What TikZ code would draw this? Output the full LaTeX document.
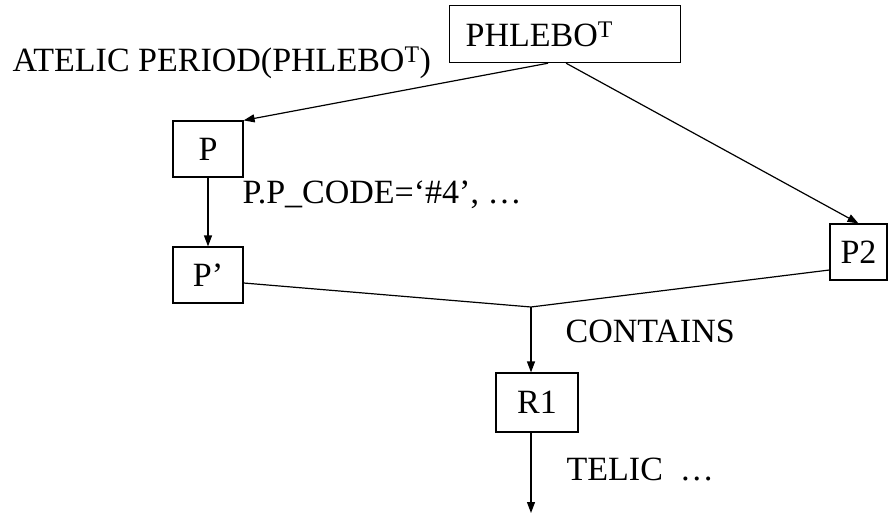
\documentclass[tikz,border=0pt]{standalone}
\usepackage{fontspec}
\setmainfont{Liberation Serif}
\usetikzlibrary{arrows.meta}

\begin{document}
\begin{tikzpicture}[x=1pt,y=-1pt,line width=1.2pt,>={Triangle[length=11pt,width=8pt]},
    font=\fontsize{34}{40}\selectfont,
    box/.style={draw,inner sep=0pt,minimum height=56pt},
    note/.style={anchor=base west,inner sep=0pt}]
\useasboundingbox (0,0) rectangle (888,516);
\node[box,minimum height=57pt,inner xsep=16pt,text width=199pt,align=left,anchor=north west] (ph) at (449,5) {PHLEBO\textsuperscript{T}};
\node[box,minimum width=70pt] (p) at (208,149) {P};
\node[box,minimum width=70pt] (pp) at (208,275) {P'};
\node[box,minimum width=57pt] (p2) at (858.5,252) {P2};
\node[box,minimum width=82pt,minimum height=59pt] (r1) at (537,402.5) {R1};
\coordinate (j) at (531,307);
\coordinate (end) at (531,513);
% labels
\node[note] (atelic) at (12,72) {ATELIC PERIOD(PHLEBO\textsuperscript{T})};
\node[note] (code) at (242,203) {P.P\_CODE=`\#4', \ldots};
\node[note] (contains) at (565,342) {CONTAINS};
\node[note] (telic) at (566,480) {TELIC\ \ \ldots};
    \path[->]
    ([xshift=-17pt]ph.south) edge (p.north east)
    ([xshift=1pt]ph.south) edge (p2.north)
    (p) edge (pp)
    (j) edge (j |- r1.north)
    (r1.south -| j) edge (end);
    \draw ([yshift=-8pt]pp.east) -- (j) -- ([yshift=-18pt]p2.west);
\end{tikzpicture}
\end{document}
